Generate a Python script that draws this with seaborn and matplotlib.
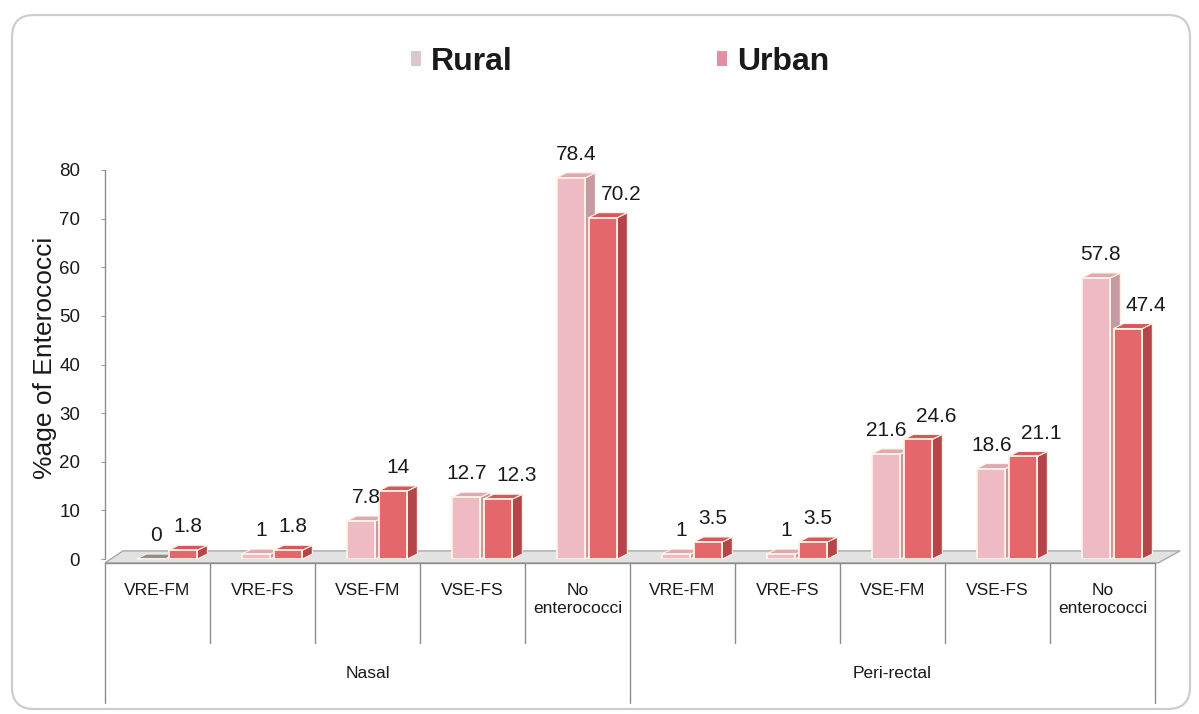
import matplotlib
matplotlib.use("Agg")
import matplotlib.pyplot as plt
import matplotlib.transforms as mtransforms
from matplotlib.patches import Polygon, Patch, FancyBboxPatch
import seaborn as sns
import pandas as pd

# ---- data -------------------------------------------------------------
sites = ["Nasal", "Peri-rectal"]
categories = ["VRE-FM", "VRE-FS", "VSE-FM", "VSE-FS", "No\nenterococci"]
rural = [0, 1, 7.8, 12.7, 78.4, 1, 1, 21.6, 18.6, 57.8]
urban = [1.8, 1.8, 14, 12.3, 70.2, 3.5, 3.5, 24.6, 21.1, 47.4]
areas = ["Rural", "Urban"]
y_ticks = [0, 10, 20, 30, 40, 50, 60, 70, 80]

slots = [f"{s}|{c}" for s in sites for c in categories]
df = pd.DataFrame({
    "slot": slots * 2,
    "area": ["Rural"] * len(slots) + ["Urban"] * len(slots),
    "value": rural + urban,
})

# ---- style ------------------------------------------------------------
sns.set_style("white")
plt.rcParams["font.family"] = ["Liberation Sans", "DejaVu Sans"]

W, H = 1199, 714
fig = plt.figure(figsize=(W / 100, H / 100), dpi=100)
fig.patch.set_facecolor("white")


def fy(py):
    return 1 - py / H


def fx(px):
    return px / W


# plot area: x from 105 to 1155 px, y=0 at 559 px, y=80 at 170 px
ax = fig.add_axes([fx(105), fy(559), fx(1155) - fx(105), fy(170) - fy(559)])
ax.set_xlim(-0.5, len(slots) - 0.5)
ax.set_ylim(0, 80)
ax.patch.set_alpha(0)

front = {"Rural": "#EEBAC4", "Urban": "#E4686B"}
side = {"Rural": "#C69AA3", "Urban": "#B4454B"}
top = {"Rural": "#DEA9B3", "Urban": "#D5585D"}

sns.barplot(data=df, x="slot", y="value", hue="area", order=slots,
            hue_order=areas, palette=front, saturation=1, width=0.61,
            gap=0.1, edgecolor="#FFF3E4", linewidth=1.3, legend=False, ax=ax)

# px -> data conversions for the extruded look
px_x = len(slots) / 1050.0
px_y = 80 / (559 - 170)
dx, dy = 10 * px_x, 5 * px_y
shift = 0.09
label_fs = 15

# floor slab
floor = Polygon([(-0.5, -0.8), (9.5 + 0.03, -0.8),
                 (9.5 + 0.03 + 22 * px_x, -0.8 + 12 * px_y),
                 (-0.5 + 18 * px_x, -0.8 + 12 * px_y)],
                closed=True, facecolor="#E2E2E2", edgecolor="#A9A9A9",
                linewidth=1.0, zorder=1, clip_on=False)
ax.add_patch(floor)

geom = {}
for level, cont in enumerate(ax.containers):
    name = areas[level]
    zbase = 3 + level
    for i, (bar, val) in enumerate(zip(cont.patches, cont.datavalues)):
        bar.set_x(bar.get_x() + shift)
        bar.set_zorder(zbase + 0.5)
        x0 = bar.get_x()
        x1 = x0 + bar.get_width()
        h = val
        sd = Polygon([(x1, 0), (x1 + dx, dy), (x1 + dx, h + dy), (x1, h)],
                     closed=True, facecolor=side[name], edgecolor="#FFF3E4",
                     linewidth=0.8, zorder=zbase, clip_on=False)
        tp = Polygon([(x0, h), (x0 + dx, h + dy), (x1 + dx, h + dy), (x1, h)],
                     closed=True, facecolor=top[name] if h > 0 else "#8F8F8F",
                     edgecolor="#FFF3E4", linewidth=0.8, zorder=zbase,
                     clip_on=False)
        ax.add_patch(sd)
        ax.add_patch(tp)
        geom[(name, i)] = (x0, x1, h)

# value labels, nudged sideways where neighbours would collide
char_px = 0.55 * label_fs * 1.389
for i in range(len(slots)):
    rx0, rx1, rh = geom[("Rural", i)]
    ux0, ux1, uh = geom[("Urban", i)]
    r_txt, u_txt = f"{rh:g}", f"{uh:g}"
    rx = (rx0 + rx1) / 2 + dx / 2
    ux = (ux0 + ux1) / 2 + dx / 2
    ry, uy = rh + 4.8, uh + 4.8
    r_half = len(r_txt) * char_px / 2 * px_x
    u_half = len(u_txt) * char_px / 2 * px_x
    if rh > uy:
        # taller rural bar: keep the urban label clear of its side face
        ux = max(ux, rx1 + dx + 3 * px_x + u_half)
    elif abs(ry - uy) < 3.5:
        overlap = (rx + r_half) - (ux - u_half) + 4 * px_x
        if overlap > 0:
            rx -= overlap * 0.25
            ux += overlap * 0.75
    ax.text(rx, ry, r_txt, ha="center", va="center", fontsize=label_fs,
            color="#1a1a1a", zorder=10, clip_on=False)
    ax.text(ux, uy, u_txt, ha="center", va="center", fontsize=label_fs,
            color="#1a1a1a", zorder=10, clip_on=False)

# ---- axes dressing ----------------------------------------------------
for sp in ax.spines.values():
    sp.set_visible(False)
ax.set_xlabel("")
ax.set_ylabel("")
ax.set_xticks([])
ax.set_yticks(y_ticks)
ax.set_yticklabels([str(t) for t in y_ticks], fontsize=13.5, color="#1a1a1a")
ax.tick_params(axis="y", length=3, width=0.8, color="#9a9a9a", pad=15,
               left=True)

bt = mtransforms.blended_transform_factory(ax.transData, fig.transFigure)
line_kw = dict(color="#8c8c8c", linewidth=1.0, clip_on=False)

# value axis line
ax.plot([-0.5, -0.5], [0, 80], **line_kw)
# category axis line
ax.plot([-0.5, 9.5], [fy(563)] * 2, transform=bt, **line_kw)

# category separators and labels
for i in range(len(slots) + 1):
    xb = i - 0.5
    bottom = 703 if i % len(categories) == 0 else 643
    ax.plot([xb, xb], [fy(563), fy(bottom)], transform=bt, **line_kw)
for i, s in enumerate(slots):
    cat = s.split("|")[1]
    ax.text(i, fy(583), cat, transform=bt, ha="center", va="top",
            fontsize=12.5, color="#1a1a1a", linespacing=1.25)
for g, site in enumerate(sites):
    xc = g * len(categories) + (len(categories) - 1) / 2
    ax.text(xc, fy(673), site, transform=bt, ha="center", va="center",
            fontsize=12.5, color="#1a1a1a")

fig.text(fx(45), fy(358), "%age of Enterococci", rotation=90, ha="center",
         va="center", fontsize=19, color="#1a1a1a")

# legend
handles = [Patch(facecolor="#D9C9CD", edgecolor="none", label="Rural"),
           Patch(facecolor="#E68DA6", edgecolor="none", label="Urban")]
fig.legend(handles=handles, loc="center", bbox_to_anchor=(fx(620), fy(62)),
           ncol=2, frameon=False, prop={"size": 23, "weight": "bold"},
           handlelength=0.32, handleheight=0.32, handletextpad=0.3,
           columnspacing=6.4, labelcolor="#1a1a1a")

# rounded chart border
ov = fig.add_axes([0, 0, 1, 1], zorder=-1)
ov.set_xlim(0, W)
ov.set_ylim(0, H)
ov.axis("off")
ov.add_patch(FancyBboxPatch((12, H - 709), 1178, 694,
                            boxstyle="round,pad=0,rounding_size=22",
                            facecolor="white", edgecolor="#CDCDCD",
                            linewidth=1.6))

fig.savefig("out.png", dpi=100)
